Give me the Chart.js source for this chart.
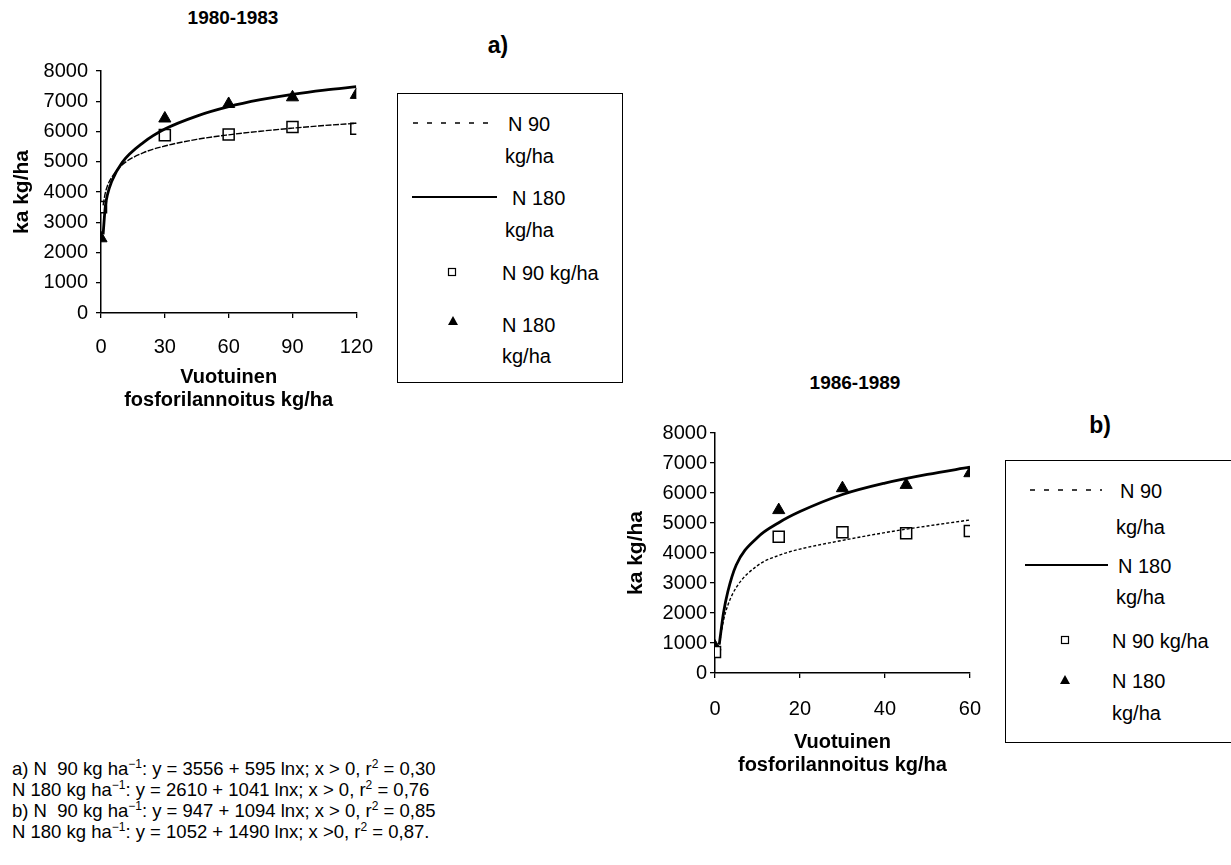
<!DOCTYPE html>
<html>
<head>
<meta charset="utf-8">
<script src="https://cdn.jsdelivr.net/npm/chart.js@4"></script>
<style>
  body { margin: 0; background: #fff; width: 1231px; height: 865px; position: relative; overflow: hidden;
         font-family: "Liberation Sans", Arial, sans-serif; color: #000; }
  .abs { position: absolute; white-space: nowrap; }
  .ttl { font-weight: bold; font-size: 19px; transform: translate(-50%, -50%); }
  .tag { font-weight: bold; font-size: 23px; transform: translate(-50%, -50%); }
  .lg { font-size: 20px; transform: translateY(-50%); }
  .box { position: absolute; border: 1.5px solid #000; box-sizing: border-box; }
  .eq { position: absolute; left: 12px; top: 758px; font-size: 18.5px; line-height: 21px; }
  .eq sup { font-size: 12px; line-height: 0; }
  canvas { position: absolute; }
</style>
</head>
<body>
<div class="abs ttl" style="left:233px;top:18px">1980-1983</div>
<div class="abs tag" style="left:498px;top:45px">a)</div>
<div class="abs ttl" style="left:855px;top:383px">1986-1989</div>
<div class="abs tag" style="left:1100px;top:425px">b)</div>

<div id="wrapA" style="position:absolute;left:0;top:50px;width:390px;height:370px"><canvas id="chartA"></canvas></div>
<div id="wrapB" style="position:absolute;left:600px;top:410px;width:400px;height:375px"><canvas id="chartB"></canvas></div>

<!-- legend a -->
<div class="box" style="left:397px;top:93px;width:226px;height:290px"></div>
<svg class="abs" style="left:405px;top:110px" width="100" height="100">
  <line x1="8" y1="13" x2="84" y2="13" stroke="#000" stroke-width="1.3" stroke-dasharray="5,9"/>
  <line x1="7" y1="87" x2="92" y2="87" stroke="#000" stroke-width="2"/>
</svg>
<div class="abs lg" style="left:508px;top:124px">N 90</div>
<div class="abs lg" style="left:505px;top:156px">kg/ha</div>
<div class="abs lg" style="left:512px;top:198px">N 180</div>
<div class="abs lg" style="left:505px;top:230px">kg/ha</div>
<svg class="abs" style="left:440px;top:260px" width="30" height="75">
  <rect x="8.5" y="8.5" width="7" height="7" fill="#fff" stroke="#000" stroke-width="1.2"/>
  <polygon points="13,56 18,65 8,65" fill="#000"/>
</svg>
<div class="abs lg" style="left:502px;top:273px">N 90 kg/ha</div>
<div class="abs lg" style="left:502px;top:325px">N 180</div>
<div class="abs lg" style="left:502px;top:356px">kg/ha</div>

<!-- legend b -->
<div class="box" style="left:1005px;top:460px;width:230px;height:283px"></div>
<svg class="abs" style="left:1020px;top:478px" width="100" height="100">
  <line x1="10" y1="12" x2="82" y2="12" stroke="#000" stroke-width="1.3" stroke-dasharray="5,9"/>
  <line x1="5" y1="87" x2="88" y2="87" stroke="#000" stroke-width="2"/>
</svg>
<div class="abs lg" style="left:1120px;top:491px">N 90</div>
<div class="abs lg" style="left:1116px;top:527px">kg/ha</div>
<div class="abs lg" style="left:1118px;top:566px">N 180</div>
<div class="abs lg" style="left:1116px;top:597px">kg/ha</div>
<svg class="abs" style="left:1053px;top:628px" width="30" height="70">
  <rect x="8.5" y="8.5" width="7" height="7" fill="#fff" stroke="#000" stroke-width="1.2"/>
  <polygon points="12,47 17,56 7,56" fill="#000"/>
</svg>
<div class="abs lg" style="left:1112px;top:641px">N 90 kg/ha</div>
<div class="abs lg" style="left:1112px;top:681px">N 180</div>
<div class="abs lg" style="left:1112px;top:713px">kg/ha</div>

<div class="eq">
a) N&nbsp; 90 kg ha<sup>−1</sup>: y = 3556 + 595 lnx; x &gt; 0, r<sup>2</sup> = 0,30<br>
N 180 kg ha<sup>−1</sup>: y = 2610 + 1041 lnx; x &gt; 0, r<sup>2</sup> = 0,76<br>
b) N&nbsp; 90 kg ha<sup>−1</sup>: y = 947 + 1094 lnx; x &gt; 0, r<sup>2</sup> = 0,85<br>
N 180 kg ha<sup>−1</sup>: y = 1052 + 1490 lnx; x &gt;0, r<sup>2</sup> = 0,87.
</div>

<script>
// a) 1980-1983, P-lannoitus 0-120 kg/ha
var xA = [0, 30, 60, 90, 120];
var n90A = [3500, 5880, 5900, 6150, 6090];
var n180A = [2470, 6430, 6910, 7130, 7210];
var fitXA = [1, 2, 3, 5, 10, 20, 30, 45, 60, 75, 90, 105, 120];
var fit90A = [3560, 3960, 4200, 4480, 4900, 5300, 5520, 5740, 5890, 6010, 6110, 6200, 6270];
var fit180A = [2600, 3500, 3900, 4350, 4980, 5640, 6080, 6510, 6820, 7050, 7230, 7370, 7480];

// b) 1986-1989, P-lannoitus 0-60 kg/ha
var xB = [0, 15, 30, 45, 60];
var n90B = [700, 4540, 4690, 4660, 4730];
var n180B = [880, 5430, 6160, 6270, 6660];
var fitXB = [1, 2, 3, 5, 10, 15, 20, 30, 40, 50, 60];
var fit90B = [950, 1750, 2250, 2850, 3580, 3920, 4130, 4420, 4680, 4900, 5100];
var fit180B = [950, 2000, 2700, 3600, 4520, 5010, 5380, 5950, 6330, 6620, 6860];

var yTicks = [0, 1000, 2000, 3000, 4000, 5000, 6000, 7000, 8000];

var FONT = '"Liberation Sans", Arial, sans-serif';

function pts(xs, ys) {
    return xs.map(function (x, i) { return { x: x, y: ys[i] }; });
}

function teeKaavio(id, o) {
    var ctx = document.getElementById(id).getContext('2d');
    return new Chart(ctx, {
        type: 'scatter',
        data: {
            datasets: [
                { label: 'N 90 kg/ha', data: pts(o.fitX, o.fit90), showLine: true, pointRadius: 0,
                  borderColor: '#000', borderWidth: 1.4, borderDash: o.dash, cubicInterpolationMode: 'monotone' },
                { label: 'N 180 kg/ha', data: pts(o.fitX, o.fit180), showLine: true, pointRadius: 0,
                  borderColor: '#000', borderWidth: 2.8, cubicInterpolationMode: 'monotone' },
                { label: 'N 90 kg/ha', data: pts(o.x, o.n90), pointStyle: 'rect', pointRadius: 7.8,
                  backgroundColor: '#fff', borderColor: '#000', borderWidth: 1.5 },
                { label: 'N 180 kg/ha', data: pts(o.x, o.n180), pointStyle: 'triangle', pointRadius: 7,
                  backgroundColor: '#000', borderColor: '#000', borderWidth: 1 }
            ]
        },
        options: {
            responsive: true,
            maintainAspectRatio: false,
            animation: false,
            layout: { padding: { top: o.padTop, right: o.padRight, left: 0, bottom: 0 } },
            plugins: { legend: { display: false }, tooltip: { enabled: false } },
            scales: {
                x: {
                    type: 'linear', min: 0, max: o.xMax,
                    afterFit: function (s) { s.height = o.xH; },
                    ticks: { stepSize: o.xStep, color: '#000', font: { family: FONT, size: 20 }, padding: o.xPad, maxRotation: 0 },
                    grid: { drawOnChartArea: false, color: '#000', tickLength: 5, lineWidth: 1.3 },
                    border: { color: '#000', width: 1.5 },
                    title: { display: true, text: ['Vuotuinen', 'fosforilannoitus kg/ha'], color: '#000',
                             font: { family: FONT, size: 20, weight: 'bold', lineHeight: 1.15 }, padding: { top: 0, bottom: 8.5 } }
                },
                y: {
                    min: 0, max: 8000,
                    afterFit: function (s) { s.width = o.yW; },
                    afterBuildTicks: function (s) { s.ticks = yTicks.map(function (v) { return { value: v }; }); },
                    ticks: { color: '#000', font: { family: FONT, size: 20 }, padding: o.yPad,
                             callback: function (v) { return String(v); } },
                    grid: { drawOnChartArea: false, color: '#000', tickLength: 5, lineWidth: 1.3 },
                    border: { color: '#000', width: 1.5 },
                    title: { display: true, text: 'ka kg/ha', color: '#000',
                             font: { family: FONT, size: 21, weight: 'bold', lineHeight: 1.2 }, padding: { top: o.yTitlePad, bottom: 0 } }
                }
            }
        }
    });
}

teeKaavio('chartA', {
    x: xA, n90: n90A, n180: n180A, fitX: fitXA, fit90: fit90A, fit180: fit180A, dash: [6, 1.5],
    xMax: 120, xStep: 30, padTop: 21, padRight: 32, xH: 107, yW: 101, xPad: 17, yPad: 8, yTitlePad: 10
});

teeKaavio('chartB', {
    x: xB, n90: n90B, n180: n180B, fitX: fitXB, fit90: fit90B, fit180: fit180B, dash: [3, 2],
    xMax: 60, xStep: 20, padTop: 23, padRight: 25, xH: 112, yW: 115, xPad: 19, yPad: 3, yTitlePad: 23.5
});
</script>
</body>
</html>
